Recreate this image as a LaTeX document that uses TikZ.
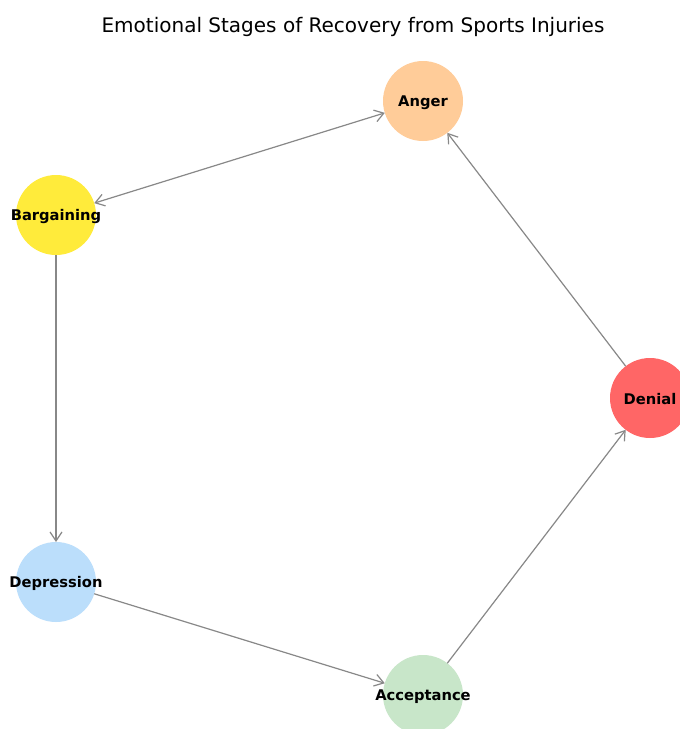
\documentclass[tikz,border=0pt]{standalone}
\usepackage{fontspec}
\setmainfont{DejaVu Sans}
\usetikzlibrary{arrows.meta}
\definecolor{cAnger}{HTML}{FFCC99}
\definecolor{cBarg}{HTML}{FFEB3B}
\definecolor{cDenial}{HTML}{FF6666}
\definecolor{cDep}{HTML}{BBDEFB}
\definecolor{cAcc}{HTML}{C8E6C9}
\definecolor{edgegray}{HTML}{888888}
\tikzset{
  stage/.style={circle, fill=#1, draw=none, minimum size=80pt, inner sep=0pt, outer sep=0pt},
  lbl/.style={font=\fontsize{14.7}{17}\selectfont\bfseries, yshift=-1.5pt},
  conn/.style={draw=edgegray, line width=1.2pt, -{Straight Barb[length=9pt,width=12pt,line width=1.2pt]}},
}
\begin{document}
\begin{tikzpicture}[x=1pt,y=-1pt]
\useasboundingbox (0,0) rectangle (680,729);
\clip (0,0) rectangle (680,729);
\fill[white] (0,0) rectangle (680,729);
\node[font=\fontsize{20}{23}\selectfont] (title) at (353,27) {Emotional Stages of Recovery from Sports Injuries};
\node[stage=cAnger] (anger) at (423,101) {};
\node[stage=cBarg] (barg) at (56,215) {};
\node[stage=cDenial] (denial) at (650,398) {};
\node[stage=cDep] (dep) at (56,582) {};
\node[stage=cAcc] (acc) at (423,695) {};
\node[lbl] (tanger) at (anger.center) {Anger};
\node[lbl] (tbarg) at (barg.center) {Bargaining};
\node[lbl] (tdenial) at (denial.center) {Denial};
\node[lbl] (tdep) at (dep.center) {Depression};
\node[lbl] (tacc) at (acc.center) {Acceptance};
\draw[conn, {Straight Barb[length=9pt,width=12pt,line width=1.2pt]}-{Straight Barb[length=9pt,width=12pt,line width=1.2pt]}] (barg) -- (anger);
\draw[conn] (barg) -- (dep);
\draw[conn] (dep) -- (acc);
\draw[conn] (acc) -- (denial);
\draw[conn] (denial) -- (anger);
\end{tikzpicture}
\end{document}
